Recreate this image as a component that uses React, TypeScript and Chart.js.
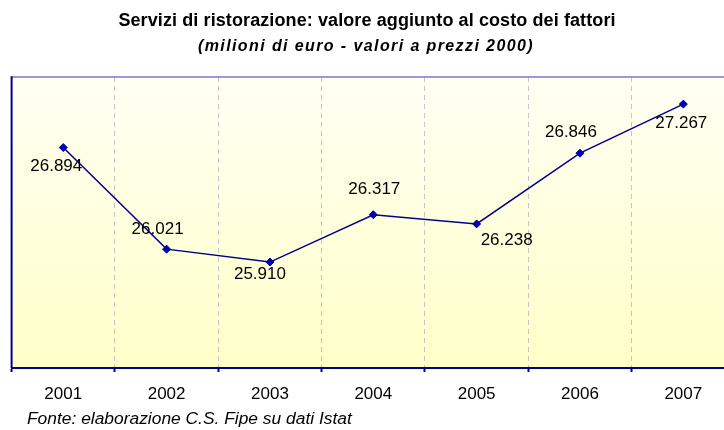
import React, { useEffect, useRef } from "react";
import { Chart, registerables } from "chart.js";

Chart.register(...registerables);

const years = ["2001", "2002", "2003", "2004", "2005", "2006", "2007"];
const values = [26.894, 26.021, 25.91, 26.317, 26.238, 26.846, 27.267];
const valueLabels = ["26.894", "26.021", "25.910", "26.317", "26.238", "26.846", "27.267"];

const titleText = "Servizi di ristorazione: valore aggiunto al costo dei fattori";
const subtitleText = "(milioni di euro - valori a prezzi 2000)";
const sourceText = "Fonte: elaborazione C.S. Fipe su dati Istat";

// label placement relative to each point (presentation only)
const labelOffsets: [number, number][] = [
  [-7, 19],
  [-9, -20],
  [-10, 12],
  [1, -25],
  [30, 16],
  [-9, -21],
  [-2, 19],
];

const FONT = "'Liberation Sans', Arial, sans-serif";

export default function App() {
  const ref = useRef<HTMLCanvasElement | null>(null);

  useEffect(() => {
    if (!ref.current) return;

    const decor = {
      id: "decor",
      beforeDraw(chart: any) {
        const { ctx, chartArea: a } = chart;
        ctx.save();
        ctx.fillStyle = "#ffffff";
        ctx.fillRect(0, 0, chart.width, chart.height);
        const g = ctx.createLinearGradient(0, a.top, 0, a.bottom);
        g.addColorStop(0, "#fffff4");
        g.addColorStop(1, "#ffffc8");
        ctx.fillStyle = g;
        ctx.fillRect(a.left, a.top, a.right - a.left, a.bottom - a.top);
        ctx.restore();
      },
      afterDatasetsDraw(chart: any) {
        const { ctx, chartArea: a } = chart;
        ctx.save();
        // frame
        ctx.strokeStyle = "#7b7bc0";
        ctx.lineWidth = 1.5;
        ctx.beginPath();
        ctx.moveTo(a.left, a.top);
        ctx.lineTo(chart.width, a.top);
        ctx.stroke();
        ctx.strokeStyle = "#000090";
        ctx.lineWidth = 2;
        ctx.beginPath();
        ctx.moveTo(a.left, a.top - 0.75);
        ctx.lineTo(a.left, a.bottom);
        ctx.stroke();

        // data labels
        const meta = chart.getDatasetMeta(0);
        ctx.fillStyle = "#000000";
        ctx.font = `17px ${FONT}`;
        ctx.textAlign = "center";
        ctx.textBaseline = "middle";
        meta.data.forEach((pt: any, i: number) => {
          const [dx, dy] = labelOffsets[i];
          ctx.fillText(valueLabels[i], pt.x + dx, pt.y + dy);
        });

        // titles
        ctx.textBaseline = "alphabetic";
        ctx.font = `bold 18px ${FONT}`;
        (ctx as any).letterSpacing = "0.1px";
        ctx.fillText(titleText, 367, 26);
        ctx.font = `italic bold 16px ${FONT}`;
        (ctx as any).letterSpacing = "1.4px";
        ctx.fillText(subtitleText, 366, 51);
        (ctx as any).letterSpacing = "0px";
        ctx.font = `italic 17.4px ${FONT}`;
        ctx.textAlign = "left";
        ctx.fillText(sourceText, 27, 424);
        ctx.restore();
      },
    };

    const chart = new Chart(ref.current, {
      type: "line",
      data: {
        labels: years,
        datasets: [
          {
            data: values,
            borderColor: "#00008b",
            borderWidth: 1.5,
            backgroundColor: "#0000b0",
            pointBackgroundColor: "#0000b0",
            pointBorderColor: "#0000b0",
            pointStyle: "rectRot",
            pointRadius: 4,
            pointBorderWidth: 1,
            tension: 0,
            fill: false,
          },
        ],
      },
      options: {
        animation: false,
        responsive: false,
        devicePixelRatio: 1,
        layout: { padding: { left: 11.6, right: 4.6, top: 77, bottom: 0 } },
        plugins: {
          legend: { display: false },
          title: { display: false },
          tooltip: { enabled: false },
        },
        scales: {
          x: {
            type: "category",
            offset: true,
            afterFit(scale: any) {
              scale.height = 62;
            },
            grid: {
              offset: true,
              color: "#c4c4c4",
              lineWidth: 1,
              drawOnChartArea: true,
              drawTicks: true,
              tickLength: 4,
              tickColor: "#000090",
              tickWidth: 2,
            },
            border: { display: true, color: "#000090", width: 2, dash: [5, 4] },
            ticks: {
              color: "#000000",
              font: { family: FONT, size: 17 },
              padding: 12,
              maxRotation: 0,
              autoSkip: false,
            },
          },
          y: {
            display: false,
            min: 25,
            max: 27.5,
          },
        },
      },
      plugins: [decor],
    });
    return () => chart.destroy();
  }, []);

  return (
    <div
      style={{
        position: "fixed",
        left: 0,
        top: 0,
        width: 724,
        height: 430,
        overflow: "hidden",
        background: "#ffffff",
      }}
    >
      <canvas ref={ref} width={740} height={430} style={{ display: "block", width: 740, height: 430 }} />
    </div>
  );
}
